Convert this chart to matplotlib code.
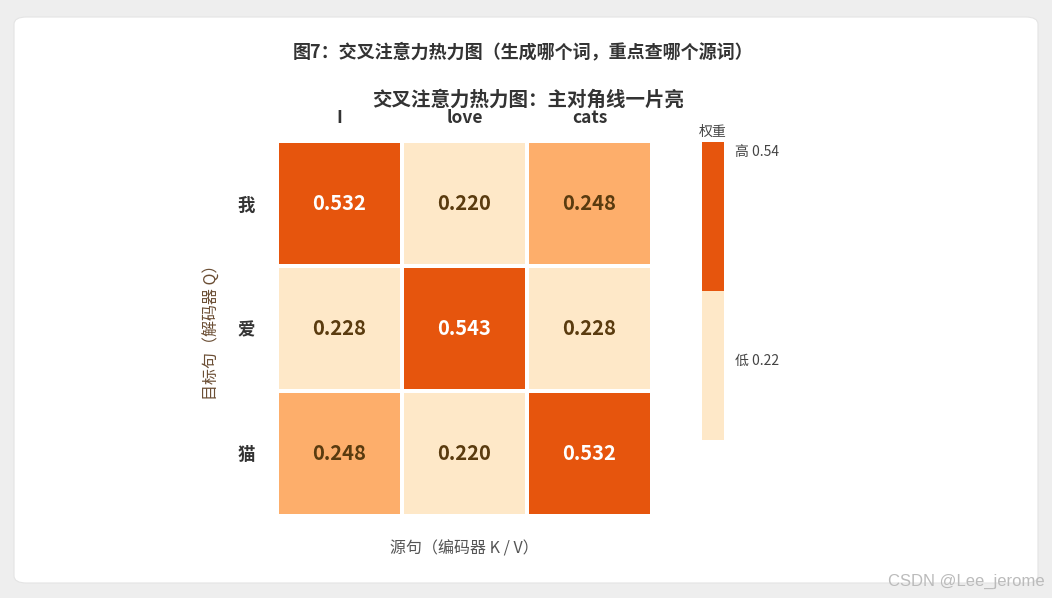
import numpy as np
import matplotlib.pyplot as plt
from matplotlib.colors import ListedColormap, BoundaryNorm
from matplotlib.patches import FancyBboxPatch

plt.rcParams['font.family'] = ['Noto Sans CJK SC', 'DejaVu Sans']

# data
src_tokens = ['I', 'love', 'cats']
tgt_tokens = ['我', '爱', '猫']
weights = np.array([
    [0.532, 0.220, 0.248],
    [0.228, 0.543, 0.228],
    [0.248, 0.220, 0.532],
])
cbar_labels = ['高 0.54', '低 0.22']

light, mid, dark = '#FEE8C8', '#FDAE6B', '#E6550D'
cmap = ListedColormap([light, mid, dark])
norm = BoundaryNorm([0.2, 0.235, 0.3, 0.56], cmap.N)

W, H = 1052, 598
fig = plt.figure(figsize=(W / 100, H / 100), dpi=100)
fig.patch.set_facecolor('#EEEEEE')

# white card
card = FancyBboxPatch((14 / W, 15 / H), 1024 / W, 566 / H,
                      boxstyle='round,pad=0,rounding_size=0.012',
                      transform=fig.transFigure, facecolor='white',
                      edgecolor='#E4E4E4', linewidth=0.8, zorder=-10)
fig.patches.append(card)

# heatmap
ax = fig.add_axes([277 / W, (H - 516) / H, 375 / W, 375 / H])
ax.pcolormesh(weights, cmap=cmap, norm=norm, edgecolors='white', linewidth=1.6)
ax.set_xlim(0, 3)
ax.set_ylim(3, 0)
for s in ax.spines.values():
    s.set_visible(False)
ax.xaxis.tick_top()
ax.set_xticks(np.arange(3) + 0.5)
ax.set_xticklabels(src_tokens, fontsize=12.5, fontweight='bold', color='#333333')
ax.set_yticks(np.arange(3) + 0.5)
ax.set_yticklabels(tgt_tokens, fontsize=12.5, fontweight='bold', color='#333333')
ax.tick_params(length=0, pad=16)
ax.tick_params(axis='x', pad=10)

for i in range(3):
    for j in range(3):
        v = weights[i, j]
        c = 'white' if v > 0.4 else '#5A3B0F'
        ax.text(j + 0.5, i + 0.5, f'{v:.3f}', ha='center', va='center',
                fontsize=14.5, fontweight='bold', color=c)

ax.set_xlabel('源句（编码器 K / V）', fontsize=11.5, color='#555555', labelpad=0)
ax.xaxis.set_label_coords(0.5, -0.065)
ax.set_ylabel('目标句（解码器 Q）', fontsize=11.5, color='#6B4E34')
ax.yaxis.set_label_coords(-0.15, 0.5)

# colorbar (two-band)
cax = fig.add_axes([702 / W, (H - 440) / H, 22 / W, 298 / H])
cax.imshow([[1], [0]], cmap=ListedColormap([light, dark]), aspect='auto',
           extent=[0, 1, 0, 1])
cax.set_xticks([])
cax.set_yticks([])
for s in cax.spines.values():
    s.set_visible(False)
cax.text(1.5, 0.966, cbar_labels[0], transform=cax.transAxes, fontsize=10,
         color='#444444', va='center', ha='left')
cax.text(1.5, 0.265, cbar_labels[1], transform=cax.transAxes, fontsize=10,
         color='#444444', va='center', ha='left')
cax.text(0.5, 1.01, '权重', transform=cax.transAxes, fontsize=10,
         color='#444444', va='bottom', ha='center')

# titles
fig.text(523 / W, 1 - 52 / H, '图7：交叉注意力热力图（生成哪个词，重点查哪个源词）',
         ha='center', va='center', fontsize=13, fontweight='bold', color='#333333')
fig.text(528 / W, 1 - 100 / H, '交叉注意力热力图：主对角线一片亮',
         ha='center', va='center', fontsize=14, fontweight='bold', color='#333333')

# watermark
fig.text(1045 / W, 1 - 581 / H, 'CSDN @Lee_jerome', ha='right', va='center',
         fontsize=12, color='#BBBBBB', family=['Liberation Sans', 'DejaVu Sans'])

fig.savefig('out.png', dpi=100, facecolor=fig.get_facecolor())
